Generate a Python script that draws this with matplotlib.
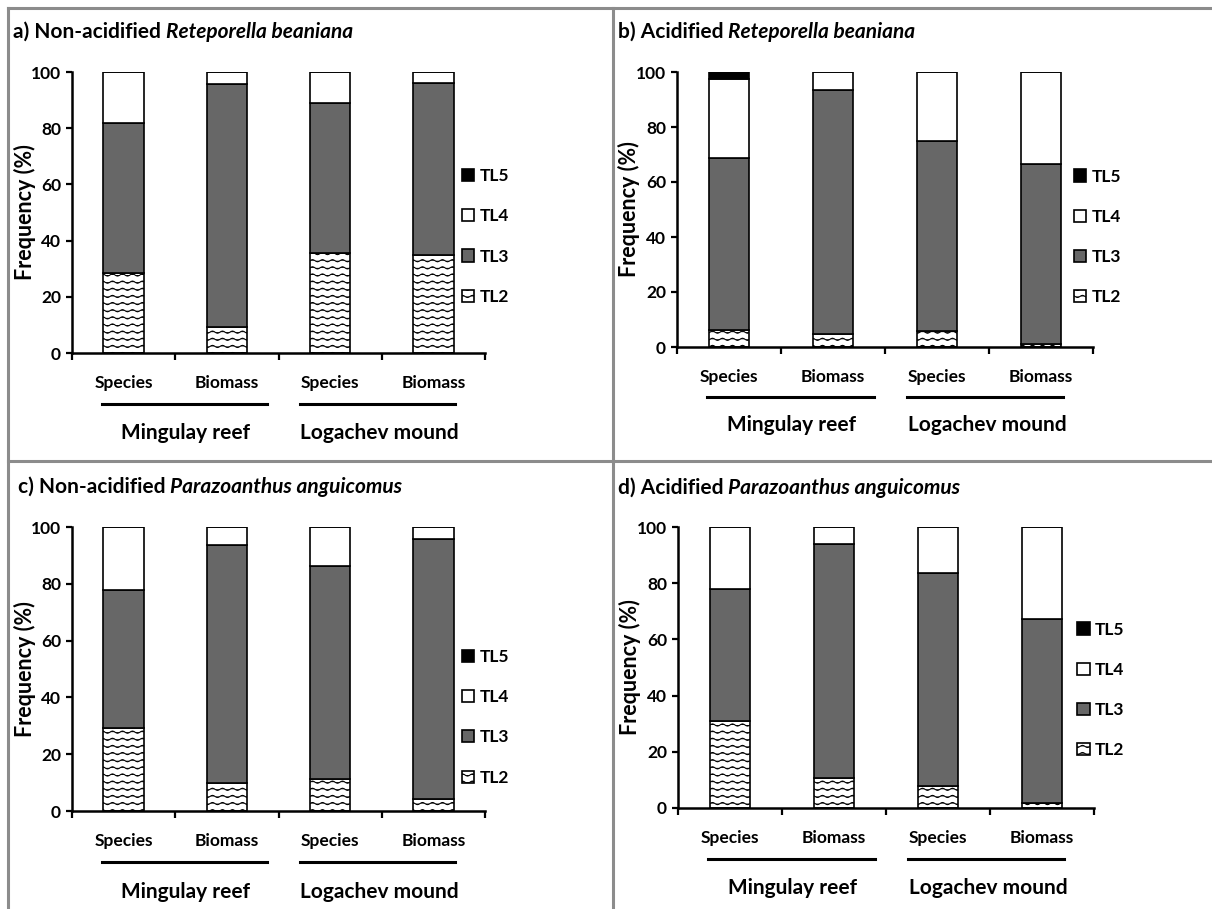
import warnings
import numpy as np
import matplotlib
matplotlib.use('Agg')
import matplotlib.pyplot as plt
import matplotlib.transforms as mtransforms
from matplotlib import hatch as mhatch
from matplotlib.path import Path
from matplotlib.lines import Line2D

warnings.filterwarnings('ignore')

# data (stacked percentages, bottom to top)
categories = ['Species', 'Biomass', 'Species', 'Biomass']
groups = ['Mingulay reef', 'Logachev mound']
levels = ['TL2', 'TL3', 'TL4', 'TL5']

a_tl2 = [28.5, 9.2, 35.6, 34.8]
a_tl3 = [53.5, 86.4, 53.3, 61.2]
a_tl4 = [18.0, 4.4, 11.1, 4.0]
a_tl5 = [0, 0, 0, 0]

b_tl2 = [6.3, 4.8, 5.7, 1.0]
b_tl3 = [62.6, 88.5, 69.3, 65.7]
b_tl4 = [28.4, 6.7, 25.0, 33.3]
b_tl5 = [2.7, 0, 0, 0]

c_tl2 = [29.1, 9.7, 11.1, 4.1]
c_tl3 = [48.6, 83.9, 75.1, 91.8]
c_tl4 = [22.3, 6.4, 13.8, 4.1]
c_tl5 = [0, 0, 0, 0]

d_tl2 = [30.8, 10.7, 8.0, 1.7]
d_tl3 = [47.0, 83.1, 75.6, 65.6]
d_tl4 = [22.2, 6.2, 16.4, 32.7]
d_tl5 = [0, 0, 0, 0]


# wavy hatch for TL2 ('~')
class WaveHatch(mhatch.HatchPatternBase):
    def __init__(self, hatch, density):
        self.num_lines = int(hatch.count('~') * 7)
        self.num_pts = 81
        self.num_vertices = self.num_lines * self.num_pts

    def set_vertices_and_codes(self, vertices, codes):
        xs = np.linspace(0, 1, self.num_pts)
        ys = 0.011 * np.sin(2 * np.pi * 10 * xs)
        for i in range(self.num_lines):
            s = (i + 0.5) / self.num_lines
            sl = slice(i * self.num_pts, (i + 1) * self.num_pts)
            vertices[sl, 0] = xs
            vertices[sl, 1] = s + ys
            codes[sl] = Path.LINETO
            codes[i * self.num_pts] = Path.MOVETO


mhatch._hatch_types.append(WaveHatch)

plt.rcParams['font.family'] = ['Lato', 'DejaVu Sans']
plt.rcParams['font.weight'] = 'bold'
plt.rcParams['hatch.color'] = '#333333'
plt.rcParams['hatch.linewidth'] = 0.75

W, H = 1212, 909
fig = plt.figure(figsize=(W / 100, H / 100), dpi=100)


def px_rect(l, t, r, b):
    return [l / W, 1 - b / H, (r - l) / W, (b - t) / H]


# gray frame lines
frame_col = '#8c8c8c'
for (x0, y0, x1, y1) in [(8, 8, W, 8), (8, 8, 8, H), (613, 8, 613, H), (8, 461, W, 461)]:
    fig.add_artist(Line2D([x0 / W, x1 / W], [1 - y0 / H, 1 - y1 / H], transform=fig.transFigure,
                          color=frame_col, lw=2.2))

panels = [
    dict(rect=(72, 72, 485, 353), data=[a_tl2, a_tl3, a_tl4, a_tl5], title=('a) Non-acidified', 'Reteporella beaniana'),
         tpos=(13, 32), leg=(0.945, 0.415), ylab=-0.087),
    dict(rect=(677, 72, 1093, 347), data=[b_tl2, b_tl3, b_tl4, b_tl5], title=('b) Acidified', 'Reteporella beaniana'),
         tpos=(618, 32), leg=(0.955, 0.40), ylab=-0.089),
    dict(rect=(72, 527, 485, 811), data=[c_tl2, c_tl3, c_tl4, c_tl5], title=('c) Non-acidified', 'Parazoanthus anguicomus'),
         tpos=(18, 487), leg=(0.945, 0.33), ylab=-0.087),
    dict(rect=(678, 527, 1094, 808), data=[d_tl2, d_tl3, d_tl4, d_tl5], title=('d) Acidified', 'Parazoanthus anguicomus'),
         tpos=(618, 488), leg=(0.96, 0.42), ylab=-0.089),
]

styles = [dict(color='white', hatch='~~'), dict(color='#676767'), dict(color='white'), dict(color='black')]
x = np.arange(len(categories)) + 0.5

renderer = fig.canvas.get_renderer()
for p in panels:
    ax = fig.add_axes(px_rect(*p['rect']))
    bottom = np.zeros(len(categories))
    for lev, vals, st in zip(levels, p['data'], styles):
        ax.bar(x, vals, 0.39, bottom=bottom, edgecolor='black', linewidth=1.2, label=lev, **st)
        bottom += np.array(vals)

    ax.set_xlim(0, 4)
    ax.set_ylim(0, 100)
    ax.set_yticks(range(0, 101, 20))
    ax.set_xticks(range(5))
    ax.set_xticklabels([])
    ax.set_xticks(x, categories, minor=True)
    ax.tick_params(axis='x', which='major', length=5, width=1.6, direction='out')
    ax.tick_params(axis='x', which='minor', length=0, pad=16, labelsize=12.5)
    ax.tick_params(axis='y', length=4, width=1.6, pad=4, labelsize=12.5)
    for lab in ax.get_yticklabels() + ax.get_xticklabels(minor=True):
        lab.set_fontweight('bold')
    for s in ['top', 'right']:
        ax.spines[s].set_visible(False)
    for s in ['left', 'bottom']:
        ax.spines[s].set_linewidth(1.8)

    ax.set_ylabel('Frequency (%)', fontsize=15.5, fontweight='bold')
    ax.yaxis.set_label_coords(p['ylab'], 0.5)

    # group underlines and labels
    trans = mtransforms.blended_transform_factory(ax.transData, ax.transAxes)
    ax.plot([0.29, 1.89], [-0.18, -0.18], color='black', lw=2.2, transform=trans, clip_on=False)
    ax.plot([2.21, 3.71], [-0.18, -0.18], color='black', lw=2.2, transform=trans, clip_on=False)
    ax.text(1.1, -0.285, groups[0], transform=trans, ha='center', va='center', fontsize=15, fontweight='bold')
    ax.text(2.98, -0.285, groups[1], transform=trans, ha='center', va='center', fontsize=15, fontweight='bold')

    h, l = ax.get_legend_handles_labels()
    ax.legend(h[::-1], l[::-1], loc='center left', bbox_to_anchor=p['leg'], frameon=False,
              handlelength=0.7, handleheight=0.7, handletextpad=0.3,
              labelspacing=1.4, borderpad=0, borderaxespad=0, prop={'weight': 'bold', 'size': 12.5})

    # panel title: plain part + italic species name
    tx, ty = p['tpos']
    t1 = fig.text(tx / W, 1 - ty / H, p['title'][0], fontsize=15, fontweight='bold', va='center')
    bb = t1.get_window_extent(renderer)
    fig.text((bb.x1 + 5) / W, 1 - ty / H, p['title'][1], fontsize=15, fontweight='bold',
             fontstyle='italic', va='center')

fig.savefig('out.png', dpi=100)
